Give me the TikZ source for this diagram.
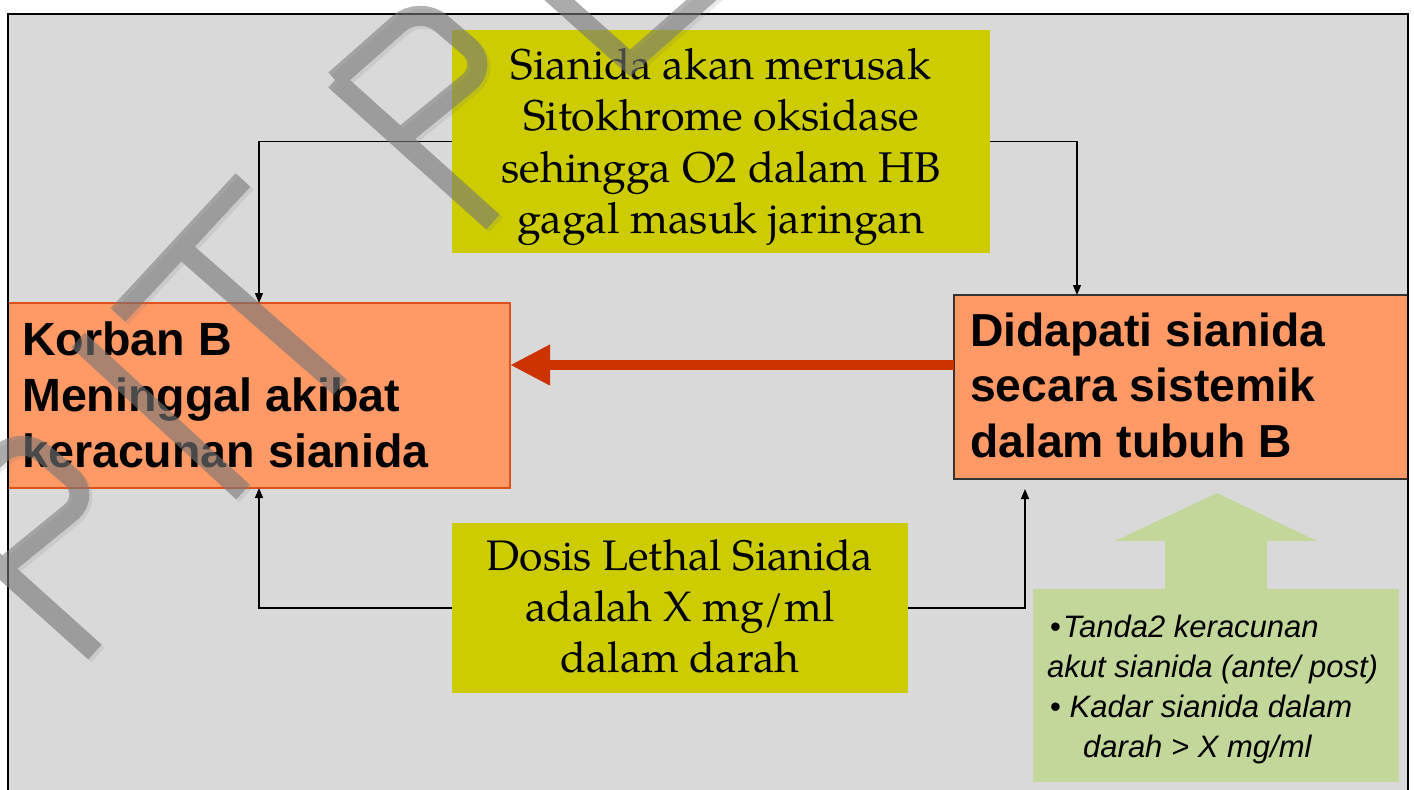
\documentclass[tikz,border=0pt]{standalone}
\usepackage{fontspec}
\setmainfont{TeX Gyre Pagella}
\newfontfamily\arialfont{Liberation Sans}
\usetikzlibrary{arrows.meta,calc}
\definecolor{bggray}{HTML}{D9D9D9}
\definecolor{mechyellow}{HTML}{CCCC00}
\definecolor{boxorange}{HTML}{FF9966}
\definecolor{orangeedge}{HTML}{E0501C}
\definecolor{bigred}{HTML}{CC3300}
\definecolor{evgreen}{HTML}{C4D79B}
\definecolor{wmgray}{HTML}{777777}
\newcommand\wmpaths{%
  % first P
  \draw (-63,510) -- (95,652);
  \draw[rounded corners=28pt] (-63,510) -- (22,435) -- (92,495) -- (0,570);
  % I
  \draw (78,340) -- (243,492);
  % T
  \draw (243,180) -- (118,315);
  \draw (180,247) -- (340,387);
  % second P
  \draw (335,80) -- (493,222);
  \draw[rounded corners=28pt] (335,80) -- (420,5) -- (490,65) -- (398,140);
  % next letter
  \draw (470,-80) -- (630,63) -- (715,-12);
}
\begin{document}
\begin{tikzpicture}[x=1pt,y=-1pt,
  box/.style={rectangle, inner sep=0pt, outer sep=0pt},
  conn/.style={draw=black, line width=1.3pt, -{Triangle[length=10pt,width=8pt]}},
  bigarrow/.style={draw=bigred, line width=10pt, -{Triangle[length=40pt,width=38pt]}},
  serif/.style={inner sep=0pt, anchor=base},
  sansbold/.style={inner sep=0pt, anchor=base west, font=\arialfont\bfseries},
  wm/.style={draw=wmgray, line width=20pt, line cap=butt, line join=miter}]
\useasboundingbox (0,0) rectangle (1414,790);
\begin{scope}
\clip (0,0) rectangle (1414,790);
\fill[bggray] (8,14) rectangle (1408,820);

% boxes
\node[box, fill=mechyellow, minimum width=538pt, minimum height=223pt] (mech) at (721,141.5) {};
\node[box, fill=mechyellow, minimum width=456pt, minimum height=170pt] (dose) at (680,608) {};
\node[box, fill=boxorange, draw=orangeedge, line width=1.5pt, minimum width=502pt, minimum height=185pt] (victim) at (259,395.5) {};
\node[box, fill=boxorange, draw=black!80, line width=2pt, minimum width=454pt, minimum height=184pt] (found) at (1181,387) {};
\fill[evgreen] (1217,493) -- (1317,541) -- (1267,541) -- (1267,590) -- (1165,590) -- (1165,541) -- (1115,541) -- cycle;
\node[box, fill=evgreen, minimum width=366pt, minimum height=193pt] (evid) at (1216,685.5) {};

% texts
\node[serif] (mechtext) at (721,79) {\fontsize{43}{51.5}\selectfont
  \begin{tabular}[t]{@{}c@{}}Sianida akan merusak\\Sitokhrome oksidase\\sehingga O2 dalam HB\\gagal masuk jaringan\end{tabular}};
\node[serif] (dosetext) at (680,570) {\fontsize{42.7}{51}\selectfont
  \begin{tabular}[t]{@{}c@{}}Dosis Lethal Sianida\\adalah X mg/ml\\dalam darah\end{tabular}};
\node[sansbold] (victimtext) at (22,355) {\fontsize{46.6}{56}\selectfont
  \begin{tabular}[t]{@{}l@{}}Korban B\\Meninggal akibat\\keracunan sianida\end{tabular}};
\node[sansbold] (foundtext) at (970,346) {\fontsize{46.3}{55.5}\selectfont
  \begin{tabular}[t]{@{}l@{}}Didapati sianida\\secara sistemik\\dalam tubuh B\end{tabular}};
\node[inner sep=0pt, anchor=base west, font=\arialfont] (evidtext) at (1047,637) {\fontsize{31}{40.3}\selectfont
  \begin{tabular}[t]{@{}l@{}}\hspace{3pt}•\hspace{2pt}\itshape Tanda2 keracunan\\
  \itshape akut sianida (ante/ post)\\
  \hspace{3pt}• \itshape Kadar sianida dalam\\
  \hspace{36pt}\itshape darah > X mg/ml\end{tabular}};

% connectors
\draw[conn] (mech.west) -| ($(victim.north west)+(251,0)$);
\draw[conn] (mech.east) -| ($(found.north west)+(123,0)$);
\draw[conn] (dose.west) -| ($(victim.south west)+(251,0)$);
\coordinate (foundbelow) at ($(found.south west)+(71,10)$);
\draw[conn] (dose.east) -| (foundbelow);
\draw[bigarrow] (found.west |- 0,365) -- (victim.east |- 0,365);

% frame
\draw[line width=2.5pt] (8,820) -- (8,14) -- (1408,14) -- (1408,820);

% watermark
\begin{scope}[shift={(3,3)}, transparency group, opacity=0.15]
  \begin{scope}[wm]\wmpaths\end{scope}
\end{scope}
\begin{scope}[transparency group, opacity=0.55]
  \begin{scope}[wm]\wmpaths\end{scope}
\end{scope}
\end{scope}
\end{tikzpicture}
\end{document}
